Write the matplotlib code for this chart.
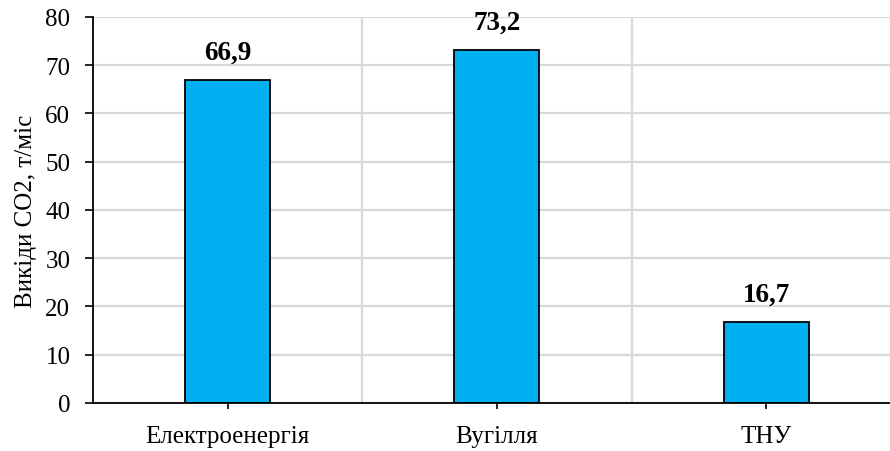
import numpy as np
import matplotlib.pyplot as plt

plt.rcParams['font.family'] = ['Liberation Serif', 'DejaVu Serif']

categories = ['Електроенергія', 'Вугілля', 'ТНУ']
values = [66.9, 73.2, 16.7]
labels = ['66,9', '73,2', '16,7']

fig = plt.figure(figsize=(8.9, 4.52), dpi=100)
ax = fig.add_axes([0.1045, 0.1062, 0.8955, 0.854])

ind = np.arange(len(categories))
ax.bar(ind, values, 0.315, color='#00B0F0', edgecolor='black', linewidth=1.3, zorder=3)

for x, v, t in zip(ind, values, labels):
	ax.text(x, v + 3.2, t, ha='center', va='bottom', fontsize=19.5, fontweight='bold', zorder=4)

ax.set_xlim(-0.5, 2.46)
ax.set_ylim(0, 80)
ax.set_yticks(np.arange(0, 81, 10))
ax.set_xticks(ind)
ax.set_xticklabels(categories)
ax.set_xticks(ind[:-1] + 0.5, minor=True)
ax.tick_params(axis='x', which='minor', length=0)
ax.tick_params(axis='both', which='major', labelsize=18, color='black', width=1.2)
ax.tick_params(axis='y', length=5.8, pad=10.5)
ax.tick_params(axis='x', length=4.5, pad=11)

ax.grid(axis='y', which='major', color='#D9D9D9', linewidth=1.6, zorder=0)
ax.grid(axis='x', which='minor', color='#D9D9D9', linewidth=1.6, zorder=0)

ax.spines['top'].set_visible(False)
ax.spines['right'].set_visible(False)
ax.spines['left'].set_linewidth(1.3)
ax.spines['bottom'].set_linewidth(1.3)
ax.spines['left'].set_zorder(5)
ax.spines['bottom'].set_zorder(5)

ax.set_ylabel('Викіди СО2, т/міс', fontsize=18, labelpad=6)

plt.savefig('out.png', dpi=100)
